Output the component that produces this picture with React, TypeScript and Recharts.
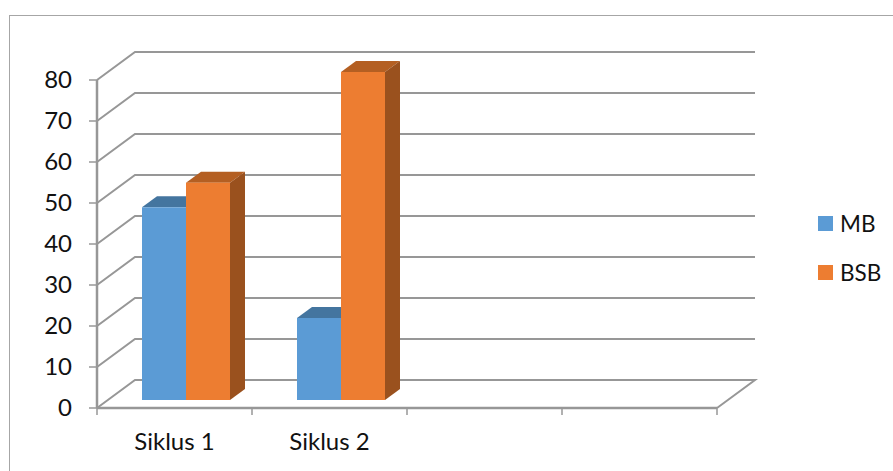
import React from "react";
import { BarChart, Bar, XAxis, YAxis, CartesianGrid, Legend } from "recharts";

const categories = ["Siklus 1", "Siklus 2", " ", "  "];
const mbValues = [47, 20, null, null];
const bsbValues = [53, 80, null, null];
const yTicks = [0, 10, 20, 30, 40, 50, 60, 70, 80];

const data = categories.map((name, i) => ({ name, MB: mbValues[i], BSB: bsbValues[i] }));

const FONT = "Lato, 'Open Sans', sans-serif";
const AXIS = "#979797";
const WALL_DX = 38;
const WALL_DY = 28;
const BAR_DX = 11.5;
const BAR_DY = 8;
const DEPTH_X = 15;
const DEPTH_Y = 11;
const BAND = 155;

function makeBar(front: string, top: string, side: string) {
  return function Bar3D(props: any) {
    const { x, y, width, height } = props;
    if (height == null || !width) return null;
    const l = x + BAR_DX;
    const r = l + width;
    const t = y - BAR_DY;
    const b = t + height;
    return (
      <g>
        <polygon points={`${l},${t} ${r},${t} ${r + DEPTH_X},${t - DEPTH_Y} ${l + DEPTH_X},${t - DEPTH_Y}`} fill={top} />
        <polygon points={`${r},${t} ${r + DEPTH_X},${t - DEPTH_Y} ${r + DEPTH_X},${b - DEPTH_Y} ${r},${b}`} fill={side} />
        <rect x={l} y={t} width={width} height={height} fill={front} />
      </g>
    );
  };
}

function wallLine(props: any) {
  const { x1, x2, y1, index } = props;
  const bx1 = x1 + WALL_DX;
  const bx2 = x2 + WALL_DX;
  const by = y1 - WALL_DY;
  const isFloor = Math.abs(y1 - 408) < 1;
  const pts = `${x1},${y1} ${bx1},${by} ${bx2},${by}` + (isFloor ? ` ${x2},${y1}` : "");
  return <polyline key={index} points={pts} fill="none" stroke={AXIS} strokeWidth={2} />;
}

function XTick(props: any) {
  const { x, payload, index } = props;
  const left = x - BAND / 2;
  const right = x + BAND / 2;
  return (
    <g>
      <line x1={left} x2={left} y1={408} y2={415} stroke={AXIS} strokeWidth={1.5} />
      {index === categories.length - 1 && <line x1={right} x2={right} y1={408} y2={415} stroke={AXIS} strokeWidth={1.5} />}
      <text x={x} y={450} textAnchor="middle" fontFamily={FONT} fontSize={24} fill="#111">
        {payload.value.trim()}
      </text>
    </g>
  );
}

function LegendBox(props: any) {
  return (
    <div style={{ position: "absolute", left: 0, top: 0 }}>
      {(props.payload || []).map((p: any, i: number) => (
        <div
          key={p.value}
          style={{ position: "absolute", left: 818, top: 207 + i * 49, display: "flex", alignItems: "center", height: 32, whiteSpace: "nowrap" }}
        >
          <span style={{ display: "inline-block", width: 15, height: 15, background: p.color, marginRight: 7 }} />
          <span style={{ fontFamily: FONT, fontSize: 22.5, color: "#111" }}>{p.value}</span>
        </div>
      ))}
    </div>
  );
}

export default function App() {
  return (
    <div style={{ position: "absolute", left: 0, top: 0, width: 893, height: 471, background: "#fff", overflow: "hidden" }}>
      <div style={{ position: "absolute", left: 9, top: 15, width: 900, height: 500, borderLeft: "1.5px solid #a6a6a6", borderTop: "1.5px solid #a6a6a6" }} />
      <BarChart
        width={893}
        height={471}
        data={data}
        margin={{ top: 80, right: 176, bottom: 0, left: 37 }}
        barCategoryGap={33.5}
        barGap={0}
        style={{ position: "absolute", left: 0, top: 0 }}
      >
        <CartesianGrid vertical={false} horizontal={wallLine} />
        <XAxis
          dataKey="name"
          interval={0}
          height={63}
          tick={<XTick />}
          tickLine={false}
          axisLine={{ stroke: AXIS, strokeWidth: 2.5 }}
        />
        <YAxis
          width={60}
          domain={[0, 80]}
          ticks={yTicks}
          interval={0}
          tickSize={8}
          tickMargin={17}
          tick={{ fontFamily: FONT, fontSize: 24, fill: "#111", dy: -1 }}
          tickLine={{ stroke: AXIS, strokeWidth: 1.5 }}
          axisLine={{ stroke: AXIS, strokeWidth: 2.5 }}
        />
        <Legend layout="vertical" align="right" verticalAlign="top" itemSorter={null} content={<LegendBox />} wrapperStyle={{ width: 0, height: 0, left: 0, top: 0 }} />
        <Bar dataKey="MB" fill="#5b9bd5" isAnimationActive={false} shape={makeBar("#5b9bd5", "#44759f", "#44759f")} />
        <Bar dataKey="BSB" fill="#ed7d31" isAnimationActive={false} shape={makeBar("#ed7d31", "#b45f22", "#9a511e")} />
      </BarChart>
    </div>
  );
}
